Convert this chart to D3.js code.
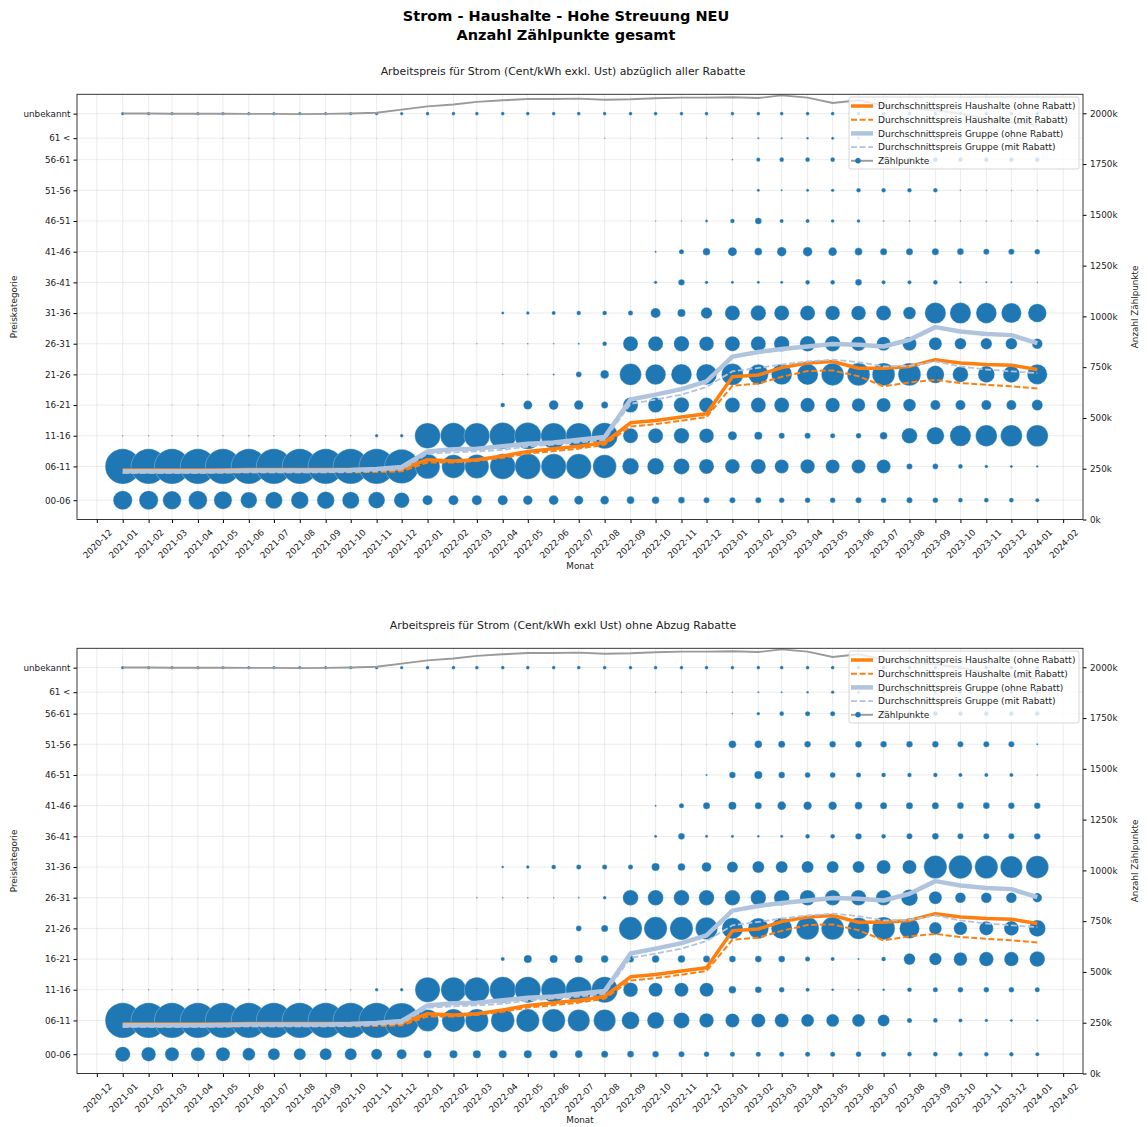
<!DOCTYPE html>
<html>
<head>
<meta charset="utf-8">
<script src="https://cdn.jsdelivr.net/npm/d3@7"></script>
<style>
  body { margin: 0; background: #fff; }
  text { font-family: "DejaVu Sans", sans-serif; fill: #222; }
</style>
</head>
<body>
<svg id="chart" width="1148" height="1127"></svg>
<script>
// Monate (x-Achse)
const monate = ["2021-01","2021-02","2021-03","2021-04","2021-05","2021-06","2021-07","2021-08","2021-09","2021-10","2021-11","2021-12",
  "2022-01","2022-02","2022-03","2022-04","2022-05","2022-06","2022-07","2022-08","2022-09","2022-10","2022-11","2022-12",
  "2023-01","2023-02","2023-03","2023-04","2023-05","2023-06","2023-07","2023-08","2023-09","2023-10","2023-11","2023-12",
  "2024-01"];

// Preiskategorien und ihr Wert (Cent/kWh) auf der y-Achse
const kategorien = ["00-06","06-11","11-16","16-21","21-26","26-31","31-36","36-41","41-46","46-51","51-56","56-61","61 <","unbekannt"];
const kategoriePreis = [3, 8.5, 13.5, 18.5, 23.5, 28.5, 33.5, 38.5, 43.5, 48.5, 53.5, 58.5, 62, 66];

// Durchschnittspreise (Cent/kWh)
const haushaltOhne = [7.9,7.9,7.9,7.9,7.9,8.0,8.0,8.0,8.0,8.0,8.05,8.1, 9.6,9.4,9.6,10.2,10.95,11.4,11.8,12.4,15.6,16.0,16.55,17.1, 23.1,23.4,24.6,25.35,25.6,24.5,24.5,24.8,25.9,25.35,25.1,25.0, 24.3];
const haushaltMit = [7.5,7.5,7.5,7.5,7.5,7.55,7.55,7.55,7.55,7.55,7.6,7.7, 9.15,9.15,9.4,9.9,10.6,11.0,11.4,12.05,15.0,15.4,15.95,16.55, 21.65,22.0,23.1,24.05,24.15,23.2,21.55,22.2,22.6,22.1,21.8,21.55, 21.2];
const gruppeOhne = [7.7,7.7,7.7,7.7,7.75,7.85,7.85,7.85,7.85,7.9,8.1,8.4, 10.95,11.3,11.4,11.8,12.2,12.4,12.85,13.3,19.4,20.2,21.1,22.35, 26.4,27.15,27.65,28.05,28.45,28.35,28.05,29.15,31.2,30.5,30.1,29.9, 28.6];
const gruppeMit = [7.45,7.45,7.45,7.45,7.5,7.55,7.55,7.55,7.55,7.6,7.75,8.0, 10.55,10.8,10.95,11.2,11.75,12.05,12.4,12.85,18.7,19.4,20.2,21.45, 24.0,24.55,25.1,25.6,25.9,25.5,24.8,24.9,25.6,24.8,24.3,24.0, 23.7];

// Zählpunkte gesamt (Tausend)
const zaehlpunkte = [1999,1999,1998,1998,1998,1997,1997,1996,1997,1999,2003,2018, 2034,2043,2056,2064,2070,2070,2072,2067,2069,2074,2077,2077, 2079,2075,2088,2077,2051,2064,2039,2023,2015,1998,1974,1957, 1944];

// Zählpunkte je Kategorie (Tausend), abzüglich aller Rabatte; Zeilen in Reihenfolge von kategorien
const zpAbzueglich = [
  [446,446,418,427,400,332,357,374,374,357,340,293, 124,124,124,124,109,114,100,91,71,68,54,44, 44,44,36,36,36,44,36,44,36,26,26,26, 20],
  [1513,1513,1513,1513,1513,1513,1513,1513,1513,1513,1513,1430, 747,676,711,797,809,772,772,676,340,340,316,278, 263,278,242,256,242,242,242,44,39,26,14,11, 7],
  [2,2,2,2,2,2,2,2,2,2,14,14, 809,835,809,874,874,809,809,835,278,278,293,263, 100,79,44,44,31,36,71,300,383,545,566,576, 576],
  [1,1,1,1,1,1,1,1,1,1,1,1, 1,1,1,26,100,114,109,60,278,278,293,278, 278,278,278,256,256,222,242,196,124,124,124,124, 149],
  [0,0,0,0,0,0,0,0,0,0,0,1, 1,1,1,2,2,5,39,91,576,514,524,524, 576,494,524,545,620,631,631,631,383,300,340,340, 494],
  [0,0,0,0,0,0,0,0,0,0,0,1, 0,1,2,2,3,3,5,26,278,278,293,263, 278,278,293,293,300,263,242,242,209,166,160,166, 134],
  [0,0,0,0,0,0,0,0,0,0,0,0, 0,0,0,11,14,20,24,26,31,124,79,160, 278,293,278,278,263,263,278,196,545,545,524,494, 418],
  [0,0,0,0,0,0,0,0,0,0,0,0, 0,0,1,1,1,1,1,1,1,14,51,14, 11,11,11,26,26,54,20,20,26,7,5,5, 3],
  [0,0,0,0,0,0,0,0,0,0,0,0, 0,0,0,0,0,0,0,0,0,5,31,68, 100,71,109,109,91,71,60,60,60,54,44,44, 36],
  [0,0,0,0,0,0,0,0,0,0,0,0, 0,0,0,0,0,0,0,0,1,2,2,11, 24,54,20,20,16,16,3,3,2,2,2,2, 2],
  [0,0,0,0,0,0,0,0,0,0,0,0, 0,0,0,0,0,0,0,0,0,0,0,1, 2,11,5,11,14,24,24,24,24,3,2,2, 2],
  [0,0,0,0,0,0,0,0,0,0,0,0, 0,0,0,0,0,0,0,0,0,0,0,0, 3,20,26,26,26,26,26,26,26,26,26,26, 26],
  [1,1,1,1,1,1,1,1,1,1,1,1, 1,1,1,1,1,1,1,2,1,1,1,2, 3,5,5,8,11,8,8,8,8,8,8,8, 8],
  [14,14,14,14,14,14,14,14,14,14,14,14, 16,16,16,16,16,16,16,16,16,16,16,16, 16,16,16,16,16,16,16,16,16,16,16,16, 16]
];

// Zählpunkte je Kategorie (Tausend), ohne Abzug Rabatte
const zpOhneAbzug = [
  [278,256,242,242,242,196,178,178,178,178,149,124, 79,79,79,79,79,79,71,60,54,51,44,36, 31,31,31,31,31,36,31,26,26,24,24,24, 20],
  [1513,1513,1513,1513,1513,1513,1513,1513,1513,1513,1513,1480, 598,653,653,676,653,653,598,598,383,349,316,256, 242,242,242,202,202,202,178,31,26,20,14,11, 7],
  [2,2,2,2,2,2,2,2,2,2,14,14, 772,772,772,835,835,772,835,835,263,242,242,242, 68,54,36,20,8,5,8,26,31,36,36,36, 31],
  [1,1,1,1,1,1,1,1,1,1,1,1, 1,1,1,20,79,79,79,68,60,68,68,60, 54,54,54,31,20,5,26,166,190,228,256,256, 293],
  [0,0,0,0,0,0,0,0,0,0,0,0, 1,1,1,1,1,1,39,60,653,653,653,598, 545,524,545,631,631,576,631,494,196,222,242,263, 340],
  [0,0,0,0,0,0,0,0,0,0,0,0, 0,0,3,3,3,3,4,16,300,300,300,293, 293,293,293,293,293,293,293,340,209,139,139,139, 109],
  [0,0,0,0,0,0,0,0,0,0,0,0, 0,0,0,8,14,26,31,31,31,79,71,114, 149,178,178,178,178,178,242,242,653,676,653,598, 631],
  [0,0,0,0,0,0,0,0,0,0,0,0, 0,0,0,0,0,0,1,1,1,11,54,11, 11,8,11,26,26,51,26,44,54,44,44,44, 51],
  [0,0,0,0,0,0,0,0,0,0,0,0, 0,0,0,0,0,0,0,0,0,5,31,60, 79,60,91,87,87,71,60,60,60,54,54,51, 51],
  [0,0,0,0,0,0,0,0,0,0,0,0, 0,0,0,0,0,0,0,0,0,1,1,5, 51,79,51,39,39,31,26,24,24,20,20,20, 2],
  [0,0,0,0,0,0,0,0,0,0,0,0, 0,0,0,0,0,0,0,0,0,0,1,1, 71,71,60,51,51,54,51,51,51,44,44,44, 5],
  [0,0,0,0,0,0,0,0,0,0,0,0, 0,0,0,0,0,0,0,0,0,0,0,1, 3,14,26,31,31,31,26,26,26,26,26,26, 26],
  [1,1,1,1,1,1,1,1,1,1,1,1, 1,1,1,1,1,1,1,1,1,2,2,2, 3,5,5,8,14,11,11,11,11,11,11,11, 11],
  [14,14,14,14,14,14,14,14,14,14,14,14, 16,16,16,16,16,16,16,16,16,16,16,16, 16,16,16,16,16,16,16,16,16,16,16,16, 16]
];

const zaehlTicks = [0, 250, 500, 750, 1000, 1250, 1500, 1750, 2000];

const svg = d3.select("#chart");
const parse = d3.utcParse("%Y-%m");
const dates = monate.map(parse);

const left = 77, right = 1083, ph = 425.2;
const pad = 54.75 * 864e5;
const x = d3.scaleUtc()
  .domain([new Date(dates[0].getTime() - pad), new Date(dates[dates.length - 1].getTime() + pad)])
  .range([left, right]);
const r = d3.scaleSqrt().domain([0, 1500]).range([0, 17.5]);
const monthTicks = x.ticks(d3.utcMonth.every(1));

const orange = "#ff7f0e", steel = "#b0c4de", blue = "#1f77b4", grau = "#9a9a9a";

// Haupttitel
svg.append("text").attr("x", 566).attr("y", 21).attr("text-anchor", "middle")
  .style("font-size", "14.5px").style("font-weight", "bold").style("fill", "#000")
  .text("Strom - Haushalte - Hohe Streuung NEU");
svg.append("text").attr("x", 566).attr("y", 40).attr("text-anchor", "middle")
  .style("font-size", "14.5px").style("font-weight", "bold").style("fill", "#000")
  .text("Anzahl Zählpunkte gesamt");

function drawPanel(top, title, rows) {
  const bottom = top + ph;
  const y = d3.scaleLinear().domain([-0.15, 69.15]).range([bottom, top]);
  const y2 = d3.scaleLinear().domain([0, 2093.5]).range([bottom, top]);
  const g = svg.append("g");

  g.append("text").attr("x", 563).attr("y", top - 19.5).attr("text-anchor", "middle")
    .style("font-size", "10.9px").text(title);

  // Gitter
  g.append("g").selectAll("line").data(monthTicks).join("line")
    .attr("x1", d => x(d)).attr("x2", d => x(d)).attr("y1", top).attr("y2", bottom)
    .attr("stroke", "#b0b0b0").attr("stroke-opacity", 0.3).attr("stroke-width", 0.8);
  g.append("g").selectAll("line").data(kategoriePreis).join("line")
    .attr("x1", left).attr("x2", right).attr("y1", d => y(d)).attr("y2", d => y(d))
    .attr("stroke", "#b0b0b0").attr("stroke-opacity", 0.3).attr("stroke-width", 0.8);

  // Blasen
  const pts = [];
  rows.forEach((row, ci) => row.forEach((v, mi) => { if (v > 0) pts.push({ c: ci, m: mi, v: v }); }));
  g.append("g").selectAll("circle").data(pts).join("circle")
    .attr("cx", d => x(dates[d.m])).attr("cy", d => y(kategoriePreis[d.c])).attr("r", d => r(d.v))
    .attr("fill", blue).attr("stroke", "#fff").attr("stroke-opacity", 0.45).attr("stroke-width", 0.6);

  // Preislinien
  const line = d3.line().x((d, i) => x(dates[i])).y(d => y(d));
  const serien = [
    { v: haushaltOhne, c: orange, w: 3.5, dash: null },
    { v: haushaltMit, c: orange, w: 2, dash: "6,2.6" },
    { v: gruppeOhne, c: steel, w: 4.5, dash: null },
    { v: gruppeMit, c: steel, w: 1.8, dash: "6,2.6" }
  ];
  serien.forEach(s => {
    g.append("path").attr("d", line(s.v)).attr("fill", "none")
      .attr("stroke", s.c).attr("stroke-width", s.w).attr("stroke-linejoin", "round")
      .attr("stroke-dasharray", s.dash);
  });

  // Zählpunkte (rechte Achse)
  g.append("path")
    .attr("d", d3.line().x((d, i) => x(dates[i])).y(d => y2(d))(zaehlpunkte))
    .attr("fill", "none").attr("stroke", grau).attr("stroke-width", 1.9);

  // Achsen
  const ax = g.append("g").attr("transform", `translate(0,${bottom})`)
    .call(d3.axisBottom(x).ticks(d3.utcMonth.every(1)).tickFormat(d3.utcFormat("%Y-%m")).tickSize(3.5));
  ax.select(".domain").remove();
  ax.selectAll("text").attr("y", 0).attr("dy", null)
    .attr("transform", "translate(2.3,26.5) rotate(-45)").attr("text-anchor", "middle")
    .style("font-size", "8.8px").style("font-family", '"DejaVu Sans", sans-serif').style("fill", "#222");

  const ay = g.append("g").attr("transform", `translate(${left},0)`)
    .call(d3.axisLeft(y).tickValues(kategoriePreis).tickFormat((d, i) => kategorien[i]).tickSize(3.5).tickPadding(3));
  ay.select(".domain").remove();
  ay.selectAll("text").style("font-size", "8.8px").style("font-family", '"DejaVu Sans", sans-serif').style("fill", "#222");

  const ay2 = g.append("g").attr("transform", `translate(${right},0)`)
    .call(d3.axisRight(y2).tickValues(zaehlTicks).tickFormat(d => d + "k").tickSize(3.5).tickPadding(3.5));
  ay2.select(".domain").remove();
  ay2.selectAll("text").style("font-size", "8.8px").style("font-family", '"DejaVu Sans", sans-serif').style("fill", "#222");

  g.append("rect").attr("x", left).attr("y", top).attr("width", right - left).attr("height", ph)
    .attr("fill", "none").attr("stroke", "#222").attr("stroke-width", 0.9);

  g.append("text").attr("x", 580).attr("y", bottom + 49.5).attr("text-anchor", "middle")
    .style("font-size", "8.8px").text("Monat");
  g.append("text").attr("transform", `translate(14,${top + ph / 2}) rotate(-90)`)
    .attr("text-anchor", "middle").attr("dominant-baseline", "central")
    .style("font-size", "8.8px").text("Preiskategorie");
  g.append("text").attr("transform", `translate(1135,${top + ph / 2}) rotate(-90)`)
    .attr("text-anchor", "middle").attr("dominant-baseline", "central")
    .style("font-size", "8.8px").text("Anzahl Zählpunkte");

  // Legende
  const lg = g.append("g").attr("transform", `translate(849,${top + 2.7})`);
  lg.append("rect").attr("width", 230).attr("height", 72).attr("rx", 2)
    .attr("fill", "#fff").attr("fill-opacity", 0.8).attr("stroke", "#ccc").attr("stroke-width", 0.8);
  const eintraege = [
    { t: "Durchschnittspreis Haushalte (ohne Rabatt)", c: orange, w: 3.5, dash: null },
    { t: "Durchschnittspreis Haushalte (mit Rabatt)", c: orange, w: 2, dash: "6,2.6" },
    { t: "Durchschnittspreis Gruppe (ohne Rabatt)", c: steel, w: 4.5, dash: null },
    { t: "Durchschnittspreis Gruppe (mit Rabatt)", c: steel, w: 1.8, dash: "6,2.6" },
    { t: "Zählpunkte", c: grau, w: 1.9, dash: null, punkt: true }
  ];
  eintraege.forEach((e, i) => {
    const yy = 9 + i * 13.7;
    lg.append("line").attr("x1", 2).attr("x2", 24).attr("y1", yy).attr("y2", yy)
      .attr("stroke", e.c).attr("stroke-width", e.w).attr("stroke-dasharray", e.dash);
    if (e.punkt) lg.append("circle").attr("cx", 9).attr("cy", yy).attr("r", 2.7).attr("fill", blue);
    lg.append("text").attr("x", 29).attr("y", yy).attr("dy", "0.35em")
      .style("font-size", "9px").text(e.t);
  });
}

drawPanel(94.3, "Arbeitspreis für Strom (Cent/kWh exkl. Ust) abzüglich aller Rabatte", zpAbzueglich);
drawPanel(648.3, "Arbeitspreis für Strom (Cent/kWh exkl  Ust) ohne Abzug Rabatte", zpOhneAbzug);
</script>
</body>
</html>
